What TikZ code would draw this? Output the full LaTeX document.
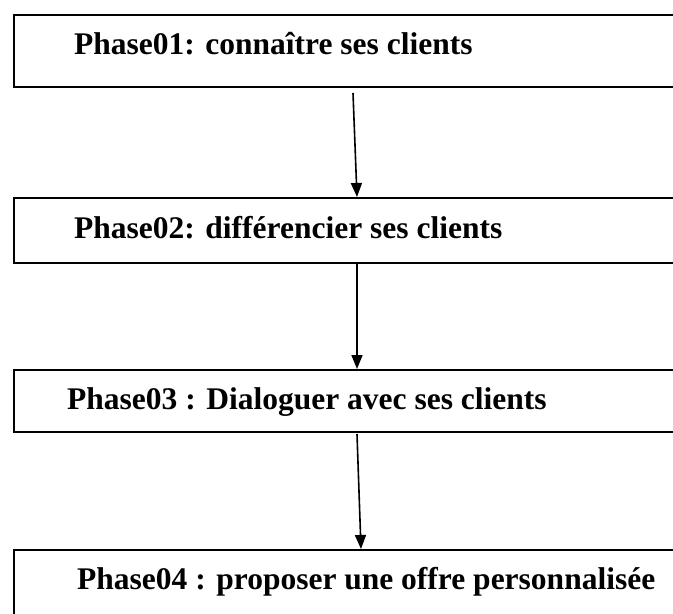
\documentclass[tikz,border=0pt]{standalone}
\usepackage{fontspec}
\setmainfont{Liberation Serif}
\usetikzlibrary{arrows.meta}

\begin{document}
\begin{tikzpicture}[x=1pt,y=-1pt,
  phasebox/.style={draw=black, line width=1.6pt, rectangle, anchor=north west,
    minimum width=720pt, inner sep=0pt},
  phasetext/.style={anchor=base west, inner sep=0pt,
    font=\bfseries\fontsize{31.5}{36}\selectfont},
  flow/.style={line width=1.6pt, -{Triangle[width=11pt,length=14pt]}}]
  \useasboundingbox (0,0) rectangle (673,614);
  \clip (0,0) rectangle (673,614);

  % the four phase frames (running off the right edge)
  \node[phasebox, minimum height=72pt] (b1) at (13,14) {};
  \node[phasebox, minimum height=65pt] (b2) at (13,197) {};
  \node[phasebox, minimum height=62pt] (b3) at (13,369) {};
  \node[phasebox, minimum height=100pt] (b4) at (13,549) {};

  % labels
  \node[phasetext] (t1) at (74,54) {Phase01: connaître ses clients};
  \node[phasetext] (t2) at (74,238) {Phase02: différencier ses clients};
  \node[phasetext] (t3) at (67,409) {Phase03 : Dialoguer avec ses clients};
  \node[phasetext] (t4) at (77,589) {Phase04 : proposer une offre personnalisée};

  % connector ends
  \coordinate (a1s) at (353,93);
  \coordinate (a2s) at (357,0 |- b2.south);
  \coordinate (a3s) at (357,434);

  \draw[flow] (a1s) -- (357,0 |- b2.north);
  \draw[flow] (a2s) -- (357,0 |- b3.north);
  \draw[flow] (a3s) -- (361,0 |- b4.north);
\end{tikzpicture}
\end{document}
